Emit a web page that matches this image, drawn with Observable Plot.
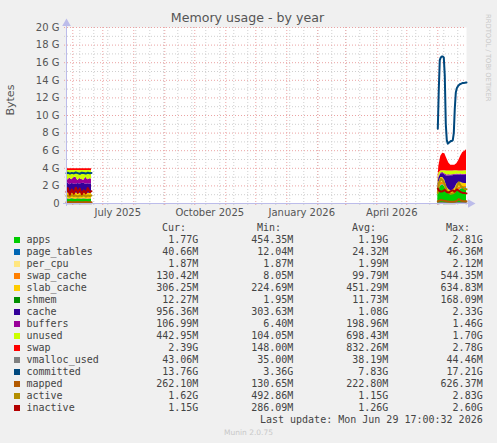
<!DOCTYPE html>
<html><head><meta charset="utf-8">
<script src="https://cdn.jsdelivr.net/npm/d3@7"></script>
<script src="https://cdn.jsdelivr.net/npm/@observablehq/plot@0.6"></script>
<style>
html,body{margin:0;padding:0;background:#f0f0f0;}
#wrap{position:relative;width:497px;height:443px;overflow:hidden;font-family:"DejaVu Sans",sans-serif;}
#chart{position:absolute;left:0;top:0;}
#title{position:absolute;left:0;width:495px;top:11.8px;text-align:center;font-size:12.6px;line-height:1;color:#555;white-space:nowrap;}
#rrd{position:absolute;left:484px;top:14px;writing-mode:vertical-rl;font-size:6.8px;color:#c8c8c8;line-height:1;white-space:nowrap;}
.lg{position:absolute;font-family:"DejaVu Sans Mono",monospace;font-size:10px;line-height:12px;color:#444;white-space:pre;}
.sw{position:absolute;width:6px;height:6px;}
#munin{position:absolute;left:0;width:497px;text-align:center;top:428.6px;font-size:7.5px;line-height:1;color:#c8c8c8;}
</style></head><body>
<div id="wrap"><div id="chart"></div><div id="title">Memory usage - by year</div><div id="rrd">RRDTOOL / TOBI OETIKER</div><div id="legend"></div><div id="munin">Munin 2.0.75</div></div>
<script>
// ---- data (values in G) ----
const leftDates = ["2025-05-25T17:00","2025-05-27","2025-05-29","2025-05-31","2025-06-02","2025-06-04","2025-06-06","2025-06-08","2025-06-10","2025-06-12","2025-06-14","2025-06-16","2025-06-18","2025-06-19T17:00"];
const rightDates = ["2026-06-01","2026-06-02","2026-06-04","2026-06-06","2026-06-08","2026-06-10","2026-06-12","2026-06-14","2026-06-16","2026-06-18","2026-06-20","2026-06-22","2026-06-24","2026-06-26","2026-06-28","2026-06-29T17:00"];

const apps        = [0.50,0.52,0.48,0.55,0.50,0.47,0.53,0.50,0.49,0.52,0.50,0.48,0.51,0.50, 1.0,1.6,2.0,2.1,1.9,1.3,1.1,1.0,1.05,1.2,1.5,1.4,1.6,1.7,1.75,1.77];
const page_tables = [0.012,0.013,0.013,0.014,0.012,0.013,0.014,0.013,0.012,0.013,0.014,0.013,0.012,0.013, 0.03,0.035,0.04,0.045,0.04,0.03,0.025,0.02,0.02,0.025,0.03,0.035,0.04,0.04,0.04,0.04];
const per_cpu     = [0.002,0.002,0.002,0.002,0.002,0.002,0.002,0.002,0.002,0.002,0.002,0.002,0.002,0.002, 0.002,0.002,0.002,0.002,0.002,0.002,0.002,0.002,0.002,0.002,0.002,0.002,0.002,0.002,0.002,0.002];
const swap_cache  = [0.05,0.06,0.05,0.04,0.05,0.06,0.05,0.04,0.05,0.06,0.05,0.05,0.04,0.05, 0.1,0.25,0.35,0.3,0.2,0.1,0.05,0.03,0.03,0.05,0.15,0.4,0.3,0.2,0.15,0.13];
const slab_cache  = [0.60,0.62,0.58,0.55,0.60,0.63,0.57,0.60,0.62,0.58,0.60,0.61,0.59,0.60, 0.4,0.5,0.55,0.5,0.5,0.45,0.4,0.38,0.4,0.42,0.5,0.55,0.45,0.35,0.32,0.31];
const shmem       = [0.01,0.01,0.01,0.01,0.01,0.01,0.01,0.01,0.01,0.01,0.01,0.01,0.01,0.01, 0.01,0.012,0.015,0.014,0.012,0.01,0.01,0.01,0.011,0.012,0.013,0.012,0.012,0.012,0.012,0.012];
const cache       = [1.05,1.10,1.00,1.12,1.05,0.98,1.10,1.04,1.08,1.12,1.00,1.08,1.05,1.06, 0.3,0.5,0.4,0.45,0.6,1.2,1.55,1.7,1.65,1.5,1.05,0.8,0.85,0.9,0.95,0.93];
const buffers     = [0.55,0.35,0.75,0.40,0.70,0.85,0.35,0.65,0.45,0.35,0.80,0.45,0.60,0.55, 0.05,0.08,0.1,0.1,0.12,0.15,0.12,0.1,0.1,0.1,0.12,0.12,0.1,0.1,0.1,0.11];
const unused      = [0.98,1.08,0.87,1.06,0.83,0.74,1.12,0.90,1.04,1.10,0.77,1.06,0.94,0.97, 0.2,0.5,0.25,0.2,0.35,0.45,0.45,0.45,0.44,0.4,0.35,0.38,0.35,0.4,0.4,0.43];
const swap        = [0.19,0.20,0.18,0.21,0.20,0.19,0.20,0.18,0.20,0.19,0.21,0.20,0.19,0.20, 0.2,0.72,1.65,1.99,1.93,1.41,0.89,0.65,0.65,0.64,0.79,1.2,1.69,2.09,2.22,2.36];

const vmalloc_used = [0.035,0.035,0.035,0.035,0.035,0.035,0.035,0.035,0.035,0.035,0.035,0.035,0.035,0.035, 0.042,0.042,0.043,0.043,0.042,0.042,0.041,0.041,0.042,0.042,0.043,0.043,0.043,0.043,0.043,0.042];
const mapped       = [0.15,0.14,0.16,0.15,0.14,0.15,0.16,0.15,0.14,0.15,0.16,0.15,0.14,0.15, 0.25,0.3,0.4,0.35,0.3,0.25,0.22,0.2,0.2,0.22,0.3,0.5,0.35,0.28,0.26,0.26];
const active       = [0.85,0.9,0.8,0.95,0.85,0.9,0.8,0.9,0.85,0.95,0.8,0.9,0.85,0.9, 1.2,2.3,2.8,2.6,2.2,1.4,1.2,1.1,1.15,1.3,1.9,2.4,2.0,1.8,1.65,1.62];
const inactive     = [1.3,1.75,1.0,1.6,1.1,1.8,1.2,1.7,1.05,1.5,1.15,1.75,1.3,1.4, 1.7,1.5,1.35,1.4,1.55,1.3,1.25,1.4,1.5,1.35,1.6,1.45,1.3,1.2,1.18,1.15];

const committedDates = ["2025-05-25T17:00","2025-05-27","2025-05-29","2025-05-31","2025-06-02","2025-06-04","2025-06-06","2025-06-08","2025-06-10","2025-06-12","2025-06-14","2025-06-16","2025-06-18","2025-06-19T17:00",
  "2026-06-01","2026-06-02","2026-06-03","2026-06-04","2026-06-05","2026-06-06","2026-06-07","2026-06-08","2026-06-09","2026-06-10","2026-06-11","2026-06-12","2026-06-13","2026-06-14","2026-06-15","2026-06-16","2026-06-17","2026-06-18","2026-06-19","2026-06-20","2026-06-21","2026-06-22","2026-06-23","2026-06-24","2026-06-25","2026-06-26","2026-06-27","2026-06-28","2026-06-29T17:00"];
const committed = [3.45,3.50,3.40,3.48,3.42,3.52,3.45,3.38,3.50,3.46,3.40,3.50,3.44,3.47,
  8.5,13.0,16.3,16.6,16.7,16.7,16.6,14.5,9.0,7.2,6.8,6.9,7.0,7.1,7.1,7.2,8.0,10.8,12.6,13.1,13.3,13.45,13.55,13.6,13.65,13.7,13.7,13.72,13.76];

const areaNames = ["apps","page_tables","per_cpu","swap_cache","slab_cache","shmem","cache","buffers","unused","swap"];
const lineNames = ["vmalloc_used","committed","mapped","active","inactive"];
const seriesColors = ["#00CC00","#0066B3","#FFE680","#FF8000","#FFCC00","#008F00","#330099","#990099","#CCFF00","#FF0000","#808080","#00487D","#B35A00","#B38F00","#B30000"];

const legendCur = ["1.77G","40.66M","1.87M","130.42M","306.25M","12.27M","956.36M","106.99M","442.95M","2.39G","43.06M","13.76G","262.10M","1.62G","1.15G"];
const legendMin = ["454.35M","12.04M","1.87M","8.05M","224.69M","1.95M","303.63M","6.40M","104.05M","148.00M","35.00M","3.36G","130.65M","492.86M","286.09M"];
const legendAvg = ["1.19G","24.32M","1.99M","99.79M","451.29M","11.73M","1.08G","198.96M","698.43M","832.26M","38.19M","7.83G","222.80M","1.15G","1.26G"];
const legendMax = ["2.81G","46.36M","2.12M","544.35M","634.83M","168.09M","2.33G","1.46G","1.70G","2.78G","44.46M","17.21G","626.37M","2.83G","2.60G"];
const legendHeaders = ["Cur:","Min:","Avg:","Max:"];
const yTicks = [0,2,4,6,8,10,12,14,16,18,20];
const xLabelDates = ["2025-07-16","2025-10-16","2026-01-16","2026-04-16"];
const lastUpdate = "Last update: Mon Jun 29 17:00:32 2026";

// ---- build ----
const parse = s => new Date(s.length > 10 ? s + ":00Z" : s + "T00:00:00Z");
const x0 = parse("2025-05-25T17:00"), x1 = parse("2026-06-29T17:00");
const allDates = [...leftDates, ...rightDates].map(parse);
const nLeft = leftDates.length;
const areaVals = [apps,page_tables,per_cpu,swap_cache,slab_cache,shmem,cache,buffers,unused,swap];
const areaRows = [];
areaNames.forEach((name,k) => areaVals[k].forEach((v,i) => areaRows.push({date: allDates[i], seg: i < nLeft ? 0 : 1, name, value: v})));
const lineRows = [];
const lineVals = {vmalloc_used, mapped, active, inactive};
lineNames.forEach(name => {
  if (name === "committed") {
    committed.forEach((v,i) => lineRows.push({date: parse(committedDates[i]), seg: i < nLeft ? 0 : 1, name, value: v}));
  } else {
    lineVals[name].forEach((v,i) => lineRows.push({date: allDates[i], seg: i < nLeft ? 0 : 1, name, value: v}));
  }
});

const yMinor = d3.range(1, 20, 2);
const xMajor = d3.utcMonth.range(x0, x1);
const xMinor = d3.utcSunday.range(parse("2025-06-08"), x1, 2);
const axisCol = "#bcbcea";
const majCol = "#eba3a3";
const minCol = "#cfcfcf";

const chart = Plot.plot({
  width: 497, height: 225,
  marginLeft: 66, marginRight: 31, marginTop: 27, marginBottom: 22,
  style: {background: "transparent", fontFamily: "DejaVu Sans", fontSize: "10px", color: "#555", overflow: "visible"},
  x: {type: "utc", domain: [x0, x1]},
  y: {domain: [0, 20]},
  color: {type: "ordinal", domain: [...areaNames, ...lineNames], range: seriesColors},
  marks: [
    Plot.frame({fill: "white", stroke: "none"}),
    Plot.ruleY(yMinor, {stroke: minCol, strokeDasharray: "1,2", insetLeft: -2}),
    Plot.ruleX(xMinor, {stroke: minCol, strokeDasharray: "1,2", insetBottom: -3}),
    Plot.ruleY(yTicks, {stroke: majCol, strokeDasharray: "1,2", insetLeft: -2}),
    Plot.ruleX(xMajor, {stroke: majCol, strokeDasharray: "1,2", insetBottom: -3}),
    Plot.areaY(areaRows, {x: "date", y: "value", z: d => d.name + d.seg, fill: "name", curve: "linear"}),
    Plot.line(lineRows, {x: "date", y: "value", z: d => d.name + d.seg, stroke: "name", strokeWidth: 2, curve: "linear"}),
    Plot.ruleY([0], {stroke: axisCol, insetLeft: -3, insetRight: -3}),
    Plot.ruleX([x0], {stroke: axisCol, insetTop: -3, insetBottom: -3}),
    Plot.dot({length: 1}, {frameAnchor: "top-left", symbol: "triangle", r: 3.2, fill: axisCol, stroke: "none", dy: -4}),
    Plot.dot({length: 1}, {frameAnchor: "bottom-right", symbol: "triangle", r: 3.2, rotate: 90, fill: axisCol, stroke: "none", dx: 4}),
    Plot.axisY(yTicks, {tickSize: 0, tickPadding: 7, tickFormat: d => d === 0 ? "0" : `${d} G`, label: null, fill: "#555"}),
    Plot.axisX(xLabelDates.map(parse), {tickSize: 0, tickPadding: 5, tickFormat: d3.utcFormat("%B %Y"), label: null, fill: "#555"}),
    Plot.text(["Bytes"], {frameAnchor: "left", text: d => d, rotate: -90, dx: -56, fontSize: 11, fill: "#555"})
  ]
});
document.getElementById("chart").appendChild(chart);

// ---- legend ----
const lg = document.getElementById("legend");
function put(text, x, base, right) {
  const el = document.createElement("div");
  el.className = "lg";
  el.textContent = text;
  el.style.top = (base - 9.46) + "px";
  if (right) el.style.right = (497 - x) + "px"; else el.style.left = x + "px";
  lg.appendChild(el);
}
const headerRight = [186, 281, 376, 470];
const valueRight = [198.3, 293.3, 388.3, 482.7];
legendHeaders.forEach((h,j) => put(h, headerRight[j], 231, true));
const names = [...areaNames, ...lineNames];
names.forEach((n,i) => {
  const base = 243 + 12*i;
  const sw = document.createElement("div");
  sw.className = "sw";
  sw.style.left = "14px"; sw.style.top = (base - 6) + "px";
  sw.style.background = seriesColors[i];
  lg.appendChild(sw);
  put(n, 26.5, base, false);
  [legendCur, legendMin, legendAvg, legendMax].forEach((arr,j) => put(arr[i], valueRight[j], base, true));
});
put(lastUpdate, 482.7, 423, true);
</script></body></html>
